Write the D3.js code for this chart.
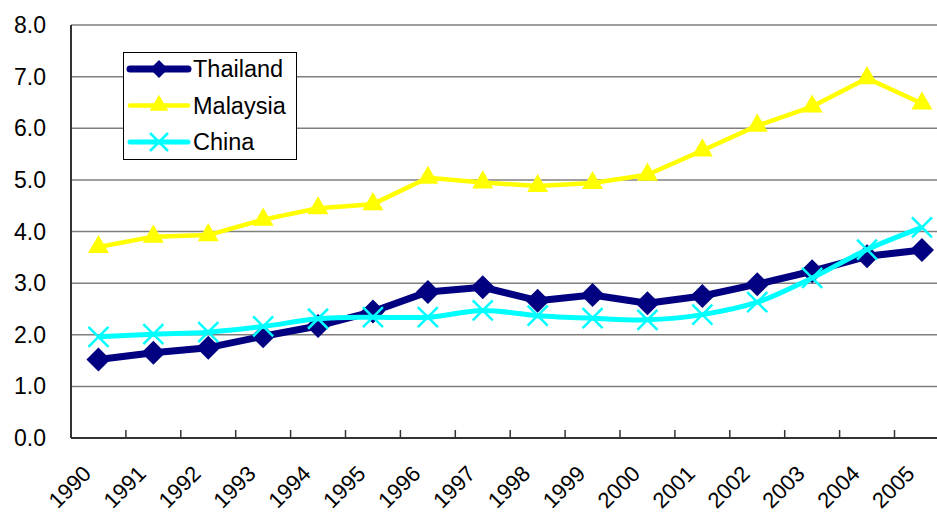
<!DOCTYPE html>
<html>
<head>
<meta charset="utf-8">
<script src="https://cdn.jsdelivr.net/npm/d3@7"></script>
<style>
  html, body { margin: 0; padding: 0; background: #fff; }
  svg { display: block; font-family: Arial, "Liberation Sans", sans-serif; }
</style>
</head>
<body>
<svg id="chart" width="937" height="512"></svg>
<script>
const years = ["1990","1991","1992","1993","1994","1995","1996","1997","1998","1999","2000","2001","2002","2003","2004","2005"];
const thailand = [1.52, 1.65, 1.75, 1.97, 2.17, 2.45, 2.83, 2.92, 2.66, 2.77, 2.61, 2.75, 2.98, 3.23, 3.52, 3.64];
const malaysia = [3.70, 3.90, 3.93, 4.23, 4.45, 4.53, 5.04, 4.95, 4.88, 4.94, 5.10, 5.57, 6.05, 6.42, 6.97, 6.48];
const china    = [1.96, 2.01, 2.05, 2.16, 2.31, 2.34, 2.34, 2.47, 2.37, 2.32, 2.29, 2.39, 2.63, 3.10, 3.65, 4.08];
const yTicks = [0, 1, 2, 3, 4, 5, 6, 7, 8];

const svg = d3.select("#chart");
const plotLeft = 71, plotTop = 25, plotBottom = 438;
const band = 54.9;

const x = d3.scaleBand().domain(years).range([plotLeft, plotLeft + band * years.length]).paddingInner(0).paddingOuter(0);
const y = d3.scaleLinear().domain([0, 8]).range([plotBottom, plotTop]);
const cx = d => x(d) + x.bandwidth() / 2;

// horizontal gridlines
svg.append("g").selectAll("line").data(yTicks).join("line")
  .attr("x1", plotLeft).attr("x2", 937)
  .attr("y1", d => y(d)).attr("y2", d => y(d))
  .attr("stroke", "#7f7f7f").attr("stroke-width", 1.5);

// y axis labels
svg.append("g").selectAll("text").data(yTicks).join("text")
  .attr("x", 46).attr("y", d => y(d) + 8)
  .attr("text-anchor", "end").attr("font-size", 23).attr("fill", "#000")
  .text(d => d.toFixed(1));

// y axis line
svg.append("line").attr("x1", plotLeft).attr("x2", plotLeft).attr("y1", plotTop).attr("y2", plotBottom)
  .attr("stroke", "#333").attr("stroke-width", 2);

// x axis line and category ticks
svg.append("line").attr("x1", plotLeft).attr("x2", 937).attr("y1", plotBottom).attr("y2", plotBottom)
  .attr("stroke", "#333").attr("stroke-width", 2);
svg.append("g").selectAll("line").data(years.slice(1)).join("line")
  .attr("x1", d => x(d)).attr("x2", d => x(d)).attr("y1", plotBottom).attr("y2", plotBottom - 8)
  .attr("stroke", "#333").attr("stroke-width", 1.5);

// x axis labels, rotated
svg.append("g").selectAll("text").data(years).join("text")
  .attr("transform", d => `translate(${cx(d) - 6},${plotBottom + 37}) rotate(-45)`)
  .attr("text-anchor", "end").attr("font-size", 22).attr("fill", "#000")
  .text(d => d);

const lineStraight = d3.line().x((d, i) => cx(years[i])).y(d => y(d));
const lineSmooth = d3.line().x((d, i) => cx(years[i])).y(d => y(d)).curve(d3.curveCatmullRom.alpha(0.5));

// Malaysia
svg.append("path").datum(malaysia).attr("d", lineStraight)
  .attr("fill", "none").attr("stroke", "#ffff00").attr("stroke-width", 4.5).attr("stroke-linejoin", "round");
const tri = d3.symbol().type(d3.symbolTriangle).size(190);
svg.append("g").selectAll("path").data(malaysia).join("path")
  .attr("d", tri).attr("transform", (d, i) => `translate(${cx(years[i])},${y(d)})`)
  .attr("fill", "#ffff00");

// Thailand
svg.append("path").datum(thailand).attr("d", lineStraight)
  .attr("fill", "none").attr("stroke", "#000080").attr("stroke-width", 7).attr("stroke-linejoin", "round");
svg.append("g").selectAll("path").data(thailand).join("path")
  .attr("d", "M0,-12L12,0L0,12L-12,0Z")
  .attr("transform", (d, i) => `translate(${cx(years[i])},${y(d)})`)
  .attr("fill", "#000080");

// China
svg.append("path").datum(china).attr("d", lineSmooth)
  .attr("fill", "none").attr("stroke", "#00ffff").attr("stroke-width", 5).attr("stroke-linejoin", "round");
svg.append("g").selectAll("path").data(china).join("path")
  .attr("d", "M-10,-10L10,10M-10,10L10,-10")
  .attr("transform", (d, i) => `translate(${cx(years[i])},${y(d)})`)
  .attr("stroke", "#00ffff").attr("stroke-width", 2.5).attr("fill", "none");

// legend
const lg = svg.append("g");
lg.append("rect").attr("x", 123.5).attr("y", 52.5).attr("width", 173).attr("height", 107)
  .attr("fill", "#fff").attr("stroke", "#000").attr("stroke-width", 1);
const entries = [
  { name: "Thailand", color: "#000080", w: 7, mark: "diamond" },
  { name: "Malaysia", color: "#ffff00", w: 4.5, mark: "triangle" },
  { name: "China",    color: "#00ffff", w: 5, mark: "cross" }
];
entries.forEach((e, i) => {
  const ly = 69 + i * 36.5;
  lg.append("line").attr("x1", 130).attr("x2", 188).attr("y1", ly).attr("y2", ly)
    .attr("stroke", e.color).attr("stroke-width", e.w).attr("stroke-linecap", "round");
  if (e.mark === "diamond") {
    lg.append("path").attr("d", "M0,-9L9,0L0,9L-9,0Z").attr("transform", `translate(159,${ly})`).attr("fill", e.color);
  } else if (e.mark === "triangle") {
    lg.append("path").attr("d", d3.symbol().type(d3.symbolTriangle).size(150)).attr("transform", `translate(159,${ly})`).attr("fill", e.color);
  } else {
    lg.append("path").attr("d", "M-9,-9L9,9M-9,9L9,-9").attr("transform", `translate(159,${ly})`)
      .attr("stroke", e.color).attr("stroke-width", 2.5);
  }
  lg.append("text").attr("x", 193).attr("y", ly + 8).attr("font-size", 23.5).attr("fill", "#000").text(e.name);
});
</script>
</body>
</html>
